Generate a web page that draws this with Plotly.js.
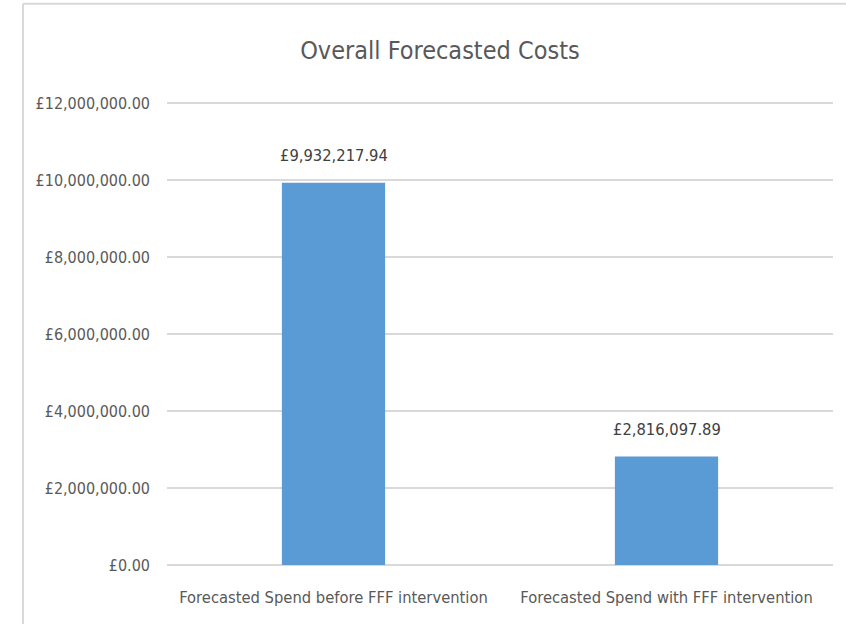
<!DOCTYPE html>
<html><head><meta charset="utf-8">
<script src="https://cdn.plot.ly/plotly-3.0.1.min.js"></script>
<style>body{margin:0;background:#fff}#c{width:846px;height:624px}</style>
</head><body><div id="c"></div>
<script>
const categories = ["Forecasted Spend before FFF intervention", "Forecasted Spend with FFF intervention"];
const values = [9932217.94, 2816097.89];
const tickVals = [0, 2000000, 4000000, 6000000, 8000000, 10000000, 12000000];
const tickText = ["£0.00", "£2,000,000.00", "£4,000,000.00", "£6,000,000.00", "£8,000,000.00", "£10,000,000.00", "£12,000,000.00"];
const fmt = v => "£" + v.toLocaleString("en-GB", {minimumFractionDigits: 2, maximumFractionDigits: 2});
const F = "DejaVu Sans Condensed, Roboto, sans-serif";
Plotly.newPlot("c", [{
  type: "bar", x: categories, y: values,
  marker: {color: "#5B9BD5"},
  hoverinfo: "none"
}], {
  width: 846, height: 624,
  margin: {l: 167, r: 13, t: 102, b: 59},
  paper_bgcolor: "#fff", plot_bgcolor: "#fff",
  bargap: 0.69,
  title: {text: "Overall Forecasted Costs", x: 0.52, xanchor: "center", y: 0.92, yanchor: "middle",
          font: {family: F, size: 25, color: "#595959"}},
  xaxis: {tickfont: {family: F, size: 16.4, color: "#595959"}, showline: false, ticks: "", showgrid: false, ticklabelstandoff: 21},
  yaxis: {range: [0, 12030000], tickvals: tickVals, ticktext: tickText, showgrid: true,
          gridcolor: "#d9d9d9", gridwidth: 2, zeroline: true, zerolinecolor: "#d9d9d9", zerolinewidth: 2,
          tickfont: {family: F, size: 16, color: "#595959"}, ticks: "", ticklabelstandoff: 16},
  annotations: categories.map((c, i) => ({
    x: c, y: values[i], xref: "x", yref: "y", text: fmt(values[i]), showarrow: false,
    yanchor: "bottom", yshift: 16, font: {family: F, size: 16.4, color: "#404040"}
  })),
  shapes: [
    {type: "line", xref: "paper", yref: "paper", x0: -0.2162, x1: -0.2162, y0: -0.2, y1: 1.2121, line: {color: "#d9d9d9", width: 2}},
    {type: "line", xref: "paper", yref: "paper", x0: -0.2162, x1: 1.03, y0: 1.2121, y1: 1.2121, line: {color: "#d9d9d9", width: 2}}
  ],
  showlegend: false
}, {displayModeBar: false, staticPlot: true});
</script></body></html>
